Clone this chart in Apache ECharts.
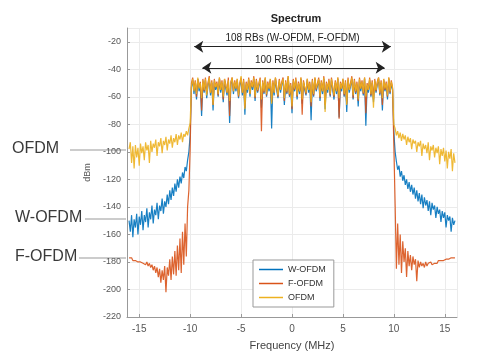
<!DOCTYPE html>
<html>
<head>
<meta charset="utf-8">
<script src="https://cdn.jsdelivr.net/npm/echarts@6/dist/echarts.min.js"></script>
<style>
html,body{margin:0;padding:0;background:#fff;}
#chart{width:480px;height:360px;}
</style>
</head>
<body>
<div id="chart"></div>
<script>
// Frequency grid (MHz)
var freq = [
-16,-15.875,-15.75,-15.625,-15.5,-15.375,-15.25,-15.125,
-15,-14.875,-14.75,-14.625,-14.5,-14.375,-14.25,-14.125,
-14,-13.875,-13.75,-13.625,-13.5,-13.375,-13.25,-13.125,
-13,-12.875,-12.75,-12.625,-12.5,-12.375,-12.25,-12.125,
-12,-11.875,-11.75,-11.625,-11.5,-11.375,-11.25,-11.125,
-11,-10.875,-10.75,-10.625,-10.5,-10.375,-10.25,-10.125,
-10,-9.875,-9.75,-9.625,-9.5,-9.375,-9.25,-9.125,
-9,-8.875,-8.75,-8.625,-8.5,-8.375,-8.25,-8.125,
-8,-7.875,-7.75,-7.625,-7.5,-7.375,-7.25,-7.125,
-7,-6.875,-6.75,-6.625,-6.5,-6.375,-6.25,-6.125,
-6,-5.875,-5.75,-5.625,-5.5,-5.375,-5.25,-5.125,
-5,-4.875,-4.75,-4.625,-4.5,-4.375,-4.25,-4.125,
-4,-3.875,-3.75,-3.625,-3.5,-3.375,-3.25,-3.125,
-3,-2.875,-2.75,-2.625,-2.5,-2.375,-2.25,-2.125,
-2,-1.875,-1.75,-1.625,-1.5,-1.375,-1.25,-1.125,
-1,-0.875,-0.75,-0.625,-0.5,-0.375,-0.25,-0.125,
0,0.125,0.25,0.375,0.5,0.625,0.75,0.875,
1,1.125,1.25,1.375,1.5,1.625,1.75,1.875,
2,2.125,2.25,2.375,2.5,2.625,2.75,2.875,
3,3.125,3.25,3.375,3.5,3.625,3.75,3.875,
4,4.125,4.25,4.375,4.5,4.625,4.75,4.875,
5,5.125,5.25,5.375,5.5,5.625,5.75,5.875,
6,6.125,6.25,6.375,6.5,6.625,6.75,6.875,
7,7.125,7.25,7.375,7.5,7.625,7.75,7.875,
8,8.125,8.25,8.375,8.5,8.625,8.75,8.875,
9,9.125,9.25,9.375,9.5,9.625,9.75,9.875,
10,10.125,10.25,10.375,10.5,10.625,10.75,10.875,
11,11.125,11.25,11.375,11.5,11.625,11.75,11.875,
12,12.125,12.25,12.375,12.5,12.625,12.75,12.875,
13,13.125,13.25,13.375,13.5,13.625,13.75,13.875,
14,14.125,14.25,14.375,14.5,14.625,14.75,14.875,
15,15.125,15.25,15.375,15.5,15.625,15.75,15.875,
16];

// W-OFDM (dBm): left skirt, in-band, right skirt
var wofdm = [
-150,-158,-146,-162,-149,-155,-145,-160,-147,-153,
-143,-157,-146,-151,-141,-155,-144,-149,-139,-152,
-142,-146,-137,-149,-139,-143,-134,-145,-136,-140,
-131,-138,-128,-135,-126,-132,-123,-129,-120,-126,
-118,-123,-115,-119,-111,-114,-106,-100,-88,
-53,-48,-58,-50,-62,-47,-56,-51,-74,-49,
-57,-48,-61,-52,-47,-59,-50,-70,-49,-55,
-51,-60,-47,-57,-50,-64,-48,-54,-59,-49,
-79,-51,-47,-58,-50,-56,-48,-61,-52,-47,
-59,-49,-73,-51,-57,-48,-60,-50,-55,-47,
-63,-49,-57,-52,-48,-68,-50,-58,-47,-60,
-51,-56,-48,-83,-50,-59,-47,-55,-61,-49,
-57,-51,-48,-66,-50,-58,-46,-60,-52,-72,
-49,-56,-48,-62,-51,-58,-47,-65,-50,-55,
-59,-48,-57,-51,-77,-49,-60,-47,-56,-52,
-48,-63,-50,-58,-47,-69,-51,-57,-49,-60,
-48,-55,-62,-50,-58,-47,-75,-51,-56,-48,
-60,-50,-71,-48,-57,-52,-47,-62,-49,-58,
-51,-67,-48,-56,-50,-59,-47,-81,-52,-57,
-48,-60,-50,-64,-49,-57,-51,-47,-59,-50,
-70,-48,-56,-51,-62,-47,-58,-50,-55,
-86,-100,-107,-113,-110,-118,-114,-121,-117,-124,
-120,-127,-122,-129,-124,-131,-126,-134,-128,-136,
-130,-138,-131,-141,-133,-139,-135,-143,-136,-146,
-137,-142,-139,-148,-140,-145,-142,-151,-143,-148,
-144,-155,-146,-150,-147,-158,-148,-153,-150];

// F-OFDM (dBm)
var fofdm = [
-177,-178,-177,-179,-178,-179,-178,-180,-179,-180,
-179,-181,-180,-182,-180,-183,-181,-184,-182,-186,
-183,-188,-184,-191,-185,-195,-186,-193,-183,-202,
-184,-190,-178,-193,-176,-189,-172,-190,-168,-186,
-163,-188,-158,-182,-152,-176,-140,-128,-98,
-50,-46,-55,-48,-60,-47,-53,-49,-70,-47,
-56,-46,-58,-50,-45,-57,-48,-66,-47,-53,
-49,-59,-46,-55,-48,-62,-47,-51,-57,-46,
-74,-49,-46,-56,-48,-54,-47,-60,-50,-46,
-57,-47,-68,-49,-55,-46,-58,-48,-53,-45,
-61,-47,-56,-50,-46,-85,-48,-57,-46,-59,
-49,-54,-47,-64,-48,-57,-46,-53,-60,-47,
-55,-49,-46,-63,-48,-57,-45,-59,-50,-69,
-47,-55,-46,-60,-49,-56,-46,-73,-48,-53,
-58,-47,-55,-49,-67,-47,-59,-46,-55,-50,
-46,-61,-48,-56,-45,-66,-49,-55,-47,-59,
-46,-53,-60,-48,-56,-46,-76,-49,-54,-47,
-59,-48,-65,-46,-55,-50,-45,-61,-47,-57,
-49,-63,-46,-54,-48,-58,-46,-72,-50,-55,
-46,-59,-48,-62,-47,-56,-49,-46,-58,-48,
-66,-47,-55,-49,-60,-46,-57,-48,-54,
-96,-138,-185,-152,-182,-160,-188,-165,-180,-170,
-191,-172,-183,-175,-186,-176,-182,-178,-194,-179,
-184,-180,-183,-181,-184,-180,-183,-181,-182,-180,
-182,-181,-181,-180,-181,-179,-180,-179,-180,-179,
-179,-178,-179,-178,-178,-177,-178,-177,-177];

// OFDM (dBm)
var ofdm = [
-98,-93,-108,-96,-112,-95,-104,-97,-110,-94,
-101,-96,-106,-93,-99,-95,-108,-92,-100,-94,
-97,-91,-103,-93,-96,-90,-101,-92,-95,-89,
-99,-91,-94,-88,-97,-90,-93,-87,-95,-88,
-91,-86,-93,-87,-89,-85,-88,-83,-79,
-52,-47,-56,-49,-58,-46,-54,-50,-61,-48,
-55,-47,-59,-51,-46,-57,-49,-66,-48,-53,
-50,-58,-46,-55,-49,-60,-47,-52,-57,-48,
-63,-50,-46,-56,-49,-54,-47,-59,-51,-45,
-57,-48,-69,-50,-55,-47,-58,-49,-53,-46,
-60,-48,-55,-51,-47,-62,-49,-56,-46,-58,
-50,-54,-47,-65,-49,-57,-46,-53,-59,-48,
-55,-50,-47,-61,-49,-56,-45,-58,-51,-67,
-48,-54,-47,-59,-50,-56,-46,-62,-49,-53,
-57,-47,-55,-50,-64,-48,-58,-46,-54,-51,
-47,-60,-49,-56,-46,-71,-50,-55,-48,-58,
-47,-53,-59,-49,-56,-46,-61,-50,-54,-47,
-58,-49,-66,-47,-55,-51,-46,-59,-48,-56,
-50,-62,-47,-54,-49,-57,-46,-60,-51,-55,
-47,-58,-49,-68,-48,-55,-50,-46,-57,-49,
-61,-47,-54,-50,-59,-46,-56,-49,-53,
-80,-83,-88,-85,-90,-86,-92,-87,-91,-88,
-95,-89,-93,-90,-98,-91,-94,-92,-100,-93,
-96,-92,-103,-94,-98,-95,-101,-93,-106,-96,
-99,-95,-104,-97,-101,-96,-109,-98,-103,-97,
-107,-99,-112,-100,-105,-98,-114,-101,-108];

var seriesNames = ['W-OFDM','F-OFDM','OFDM'];
var seriesColors = ['#0072BD','#D95319','#EDB120'];

// Bandwidth annotations
var bwLabels = ['108 RBs (W-OFDM, F-OFDM)','100 RBs (OFDM)'];
var bwStart = [-9.6, -8.8];
var bwEnd = [9.7, 9.1];
var bwLevel = [-23.6, -38.9];

// Side callouts
var calloutText = ['OFDM','W-OFDM','F-OFDM'];

function pairs(ys){ return freq.map(function(f,i){ return [f, ys[i]]; }); }

var all = [wofdm, fofdm, ofdm];
var series = all.map(function(ys, k){
  return {
    name: seriesNames[k], type:'line', data: pairs(ys), showSymbol:false, symbol:'none',
    lineStyle:{width:1.2, color: seriesColors[k], opacity:0.9},
    itemStyle:{color: seriesColors[k]}, animation:false, z: 2+k
  };
});
series[2].markLine = {
  silent:true, symbol:['arrow','arrow'], symbolSize:[9,9],
  lineStyle:{color:'#222', width:1, type:'solid'},
  label:{show:true, position:'insideMiddleTop', distance:3, color:'#222', fontSize:10, fontFamily:'Liberation Sans, Arial, sans-serif'},
  data: bwLabels.map(function(t,i){
    return [{coord:[bwStart[i], bwLevel[i]], name:t, label:{formatter:t}}, {coord:[bwEnd[i], bwLevel[i]]}];
  }),
  animation:false
};

var chart = echarts.init(document.getElementById('chart'), null, {renderer:'canvas'});
var font = 'Liberation Sans, Arial, sans-serif';
chart.setOption({
  backgroundColor:'#ffffff',
  animation:false,
  title:{text:'Spectrum', left:291, top:8, textAlign:'center',
    textStyle:{fontSize:11, fontWeight:'bold', color:'#222', fontFamily:font}},
  grid:{left:127, right:23, top:28, bottom:43},
  legend:{data:seriesNames, orient:'vertical', left:253, top:260, icon:'rect', itemWidth:24, itemHeight:1.5,
    itemGap:5, padding:[5,8,5,6], backgroundColor:'#fff', borderColor:'#999', borderWidth:1,
    textStyle:{fontSize:9, color:'#333', fontFamily:font}},
  xAxis:{type:'value', min:-16.2, max:16.2, splitNumber:6,
    name:'Frequency (MHz)', nameLocation:'middle', nameGap:23,
    nameTextStyle:{fontSize:11, color:'#444', fontFamily:font},
    axisLine:{show:true, onZero:false, lineStyle:{color:'#999'}},
    axisTick:{show:true, inside:true, length:3, lineStyle:{color:'#999'}},
    axisLabel:{fontSize:10, color:'#555', margin:7, showMinLabel:false, showMaxLabel:false, fontFamily:font},
    splitLine:{show:true, lineStyle:{color:'#ebebeb'}}},
  yAxis:{type:'value', min:-220, max:-10, interval:20,
    name:'dBm', nameLocation:'middle', nameGap:22, nameRotate:90,
    nameTextStyle:{fontSize:9, color:'#555', fontFamily:font},
    axisLine:{show:true, onZero:false, lineStyle:{color:'#999'}},
    axisTick:{show:true, inside:true, length:3, lineStyle:{color:'#999'}},
    axisLabel:{fontSize:9, color:'#555', margin:6, showMaxLabel:false, fontFamily:font},
    splitLine:{show:true, lineStyle:{color:'#ebebeb'}}},
  graphic:[
    {type:'text', left:12, top:141, style:{text:calloutText[0], fill:'#3a3a3a', font:'16px '+font}},
    {type:'line', shape:{x1:70, y1:150, x2:126, y2:150}, style:{stroke:'#999', lineWidth:1}},
    {type:'text', left:15, top:210, style:{text:calloutText[1], fill:'#3a3a3a', font:'16px '+font}},
    {type:'line', shape:{x1:85, y1:219, x2:126, y2:219}, style:{stroke:'#999', lineWidth:1}},
    {type:'text', left:15, top:249, style:{text:calloutText[2], fill:'#3a3a3a', font:'16px '+font}},
    {type:'line', shape:{x1:79, y1:258, x2:126, y2:258}, style:{stroke:'#999', lineWidth:1}}
  ],
  series: series
});
</script>
</body>
</html>
